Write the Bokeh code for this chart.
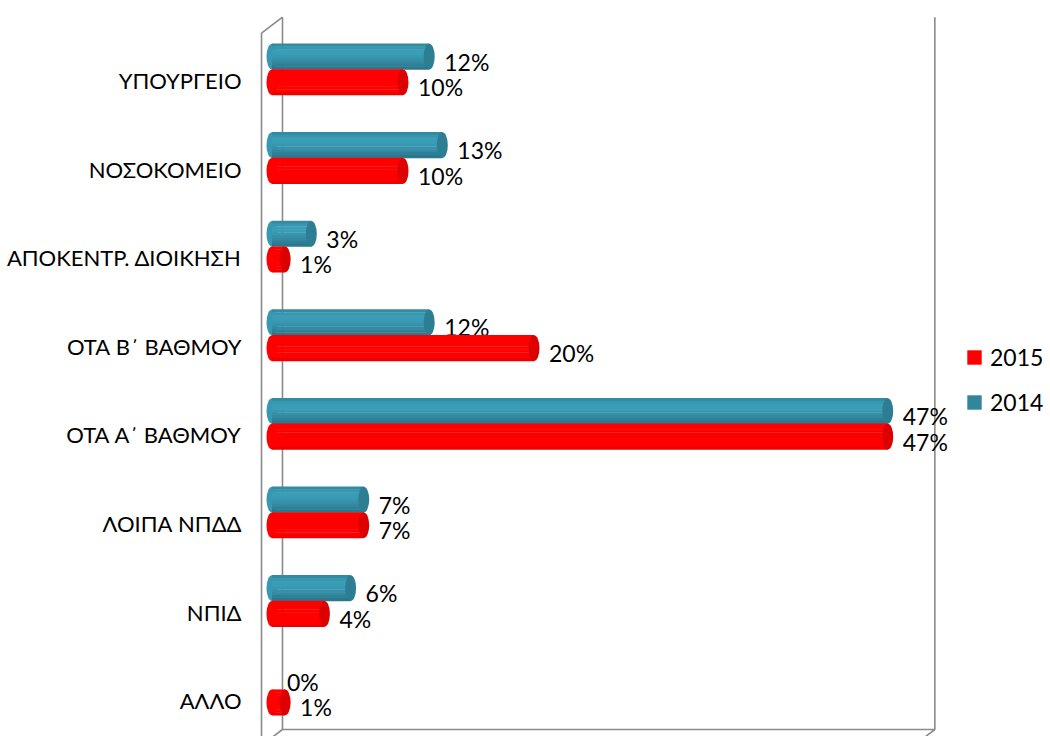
import numpy as np
from bokeh.plotting import figure
from bokeh.models import Range1d, FixedTicker, Legend, LegendItem, ColumnDataSource
from bokeh.core.properties import value
from bokeh.embed import file_html
from bokeh.resources import INLINE

# ---- data ----
categories = ["ΥΠΟΥΡΓΕΙΟ", "ΝΟΣΟΚΟΜΕΙΟ", "ΑΠΟΚΕΝΤΡ. ΔΙΟΙΚΗΣΗ", "ΟΤΑ Β΄ ΒΑΘΜΟΥ",
              "ΟΤΑ Α΄ ΒΑΘΜΟΥ", "ΛΟΙΠΑ ΝΠΔΔ", "ΝΠΙΔ", "ΑΛΛΟ"]
values_2014 = [12, 13, 3, 12, 47, 7, 6, 0]
values_2015 = [10, 10, 1, 20, 47, 7, 4, 1]
series_names = ["2015", "2014"]
axis_max = 50

# ---- style ----
FONT = "Lato"
FS_CAT = "22px"
FS_LBL = "23px"
TEAL_BANDS = ["#338aa2", "#3897b0", "#3a9eb7", "#3a9db6", "#3898b1",
              "#3591a9", "#3289a0", "#2e8097", "#2b788d"]
RED_BANDS = ["#ff0000"] * 8 + ["#ee0000"]
TEAL_CAP = "#2d7e92"
RED_CAP = "#dc0000"
TEAL_LEG = "#31859c"
RED_LEG = "#ff0000"
WALL = "#8a8a8a"

W, H = 1048, 736
PX_X = 13.1          # px per percent
ZERO_PX = 271.5      # px of 0 %
LEFT = 250           # frame left px
PX_Y = 88.6          # px per category
CAT0_PX = 80         # px of first category label

x_start = (LEFT - ZERO_PX) / PX_X
x_end = (W - ZERO_PX) / PX_X
y_bottom = (H - CAT0_PX) / PX_Y
y_top = -CAT0_PX / PX_Y

p = figure(width=W, height=H, x_range=Range1d(x_start, x_end),
           y_range=Range1d(y_bottom, y_top),
           output_backend="svg", toolbar_location=None,
           x_axis_location=None, y_axis_location="left",
           min_border_left=LEFT, min_border_right=0, min_border_top=0,
           min_border_bottom=0, outline_line_color=None,
           background_fill_color="white", border_fill_color="white")
p.xgrid.visible = False
p.ygrid.visible = False

ax = p.yaxis[0]
ax.ticker = FixedTicker(ticks=list(range(len(categories))))
ax.major_label_overrides = {i: c for i, c in enumerate(categories)}
ax.axis_line_color = None
ax.major_tick_line_color = None
ax.minor_tick_line_color = None
ax.major_tick_out = 0
ax.major_label_standoff = 9
ax.major_label_text_font = FONT
ax.major_label_text_font_size = FS_CAT
ax.major_label_text_color = "#000000"

# ---- 3D frame (walls) ----
dx, dy = 0.8, 0.09
slot = -0.125
top_mid = -0.5 + slot
bot_mid = len(categories) - 0.5 + slot + 0.04
tb, bb = top_mid - dy, bot_mid - dy   # back
tf, bf = top_mid + dy, bot_mid + dy   # front
xr = axis_max - 0.2
lw = 1.6
p.line([dx, dx, xr + dx, xr + dx], [tb, bb, bb, tb], line_color=WALL, line_width=lw)
p.line([dx, -dx, -dx], [tb, tf, bf + 1], line_color=WALL, line_width=lw)
p.line([dx, -dx], [bb, bf], line_color=WALL, line_width=lw)
p.line([xr + dx, xr - dx], [bb, bf], line_color=WALL, line_width=lw)
p.line([-dx, xr - dx], [bf, bf], line_color=WALL, line_width=lw)

# ---- cylinders ----
bar_h = 0.29
idx = np.arange(len(categories))
CAP_W = 11


def cylinder(vals, ys, bands, cap):
    vals = np.asarray(vals, dtype=float)
    keep = vals > 0
    v = vals[keep]
    y = ys[keep]
    src = ColumnDataSource(dict(y=y, v=v, z=np.zeros_like(v)))
    mid = bands[len(bands) // 2]
    p.ellipse(x="z", y="y", width=CAP_W, height=bar_h, width_units="screen",
              height_units="data", fill_color=mid, line_color=None, source=src)
    n = len(bands)
    bh = bar_h / n
    for k, c in enumerate(bands):
        off = -bar_h / 2 + bh * (k + 0.5)
        s = ColumnDataSource(dict(y=y + off, v=v, z=np.zeros_like(v)))
        p.hbar(y="y", left="z", right="v", height=bh * 1.15, fill_color=c,
               line_color=None, source=s)
    p.ellipse(x="v", y="y", width=CAP_W, height=bar_h, width_units="screen",
              height_units="data", fill_color=cap, line_color=None, source=src)


def labels(vals, ys):
    src = ColumnDataSource(dict(x=vals, y=ys, t=[f"{v}%" for v in vals]))
    p.text(x="x", y="y", text="t", source=src, x_offset=15, y_offset=5,
           text_baseline="middle", text_align="left", text_font=value(FONT),
           text_font_size=FS_LBL, text_color="#000000")


y14 = idx + slot - bar_h / 2
y15 = idx + slot + bar_h / 2
cylinder(values_2014, y14, TEAL_BANDS, TEAL_CAP)
labels(values_2014, y14)
cylinder(values_2015, y15, RED_BANDS, RED_CAP)
labels(values_2015, y15)

# ---- legend ----
leg_src = ColumnDataSource(dict(y=[-50.0], l=[0.0], r=[0.0]))
leg15 = p.hbar(y="y", left="l", right="r", height=0.1, fill_color=RED_LEG,
               line_color=None, source=leg_src)
leg14 = p.hbar(y="y", left="l", right="r", height=0.1, fill_color=TEAL_LEG,
               line_color=None, source=leg_src)
legend = Legend(items=[LegendItem(label=series_names[0], renderers=[leg15]),
                       LegendItem(label=series_names[1], renderers=[leg14])],
                location=(715, 320), glyph_width=18, glyph_height=18,
                label_standoff=7, spacing=17, padding=0, margin=0,
                border_line_color=None, background_fill_alpha=0,
                label_text_font=FONT, label_text_font_size=FS_LBL,
                label_text_color="#000000", label_height=20)
p.add_layout(legend)

open("out.html", "w").write(file_html(p, INLINE))
